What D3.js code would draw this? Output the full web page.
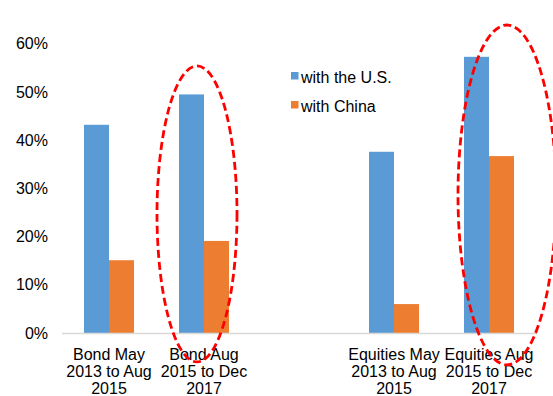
<!DOCTYPE html>
<html>
<head>
<meta charset="utf-8">
<script src="https://cdn.jsdelivr.net/npm/d3@7"></script>
<style>
  html, body { margin: 0; padding: 0; background: #fff; }
  svg { display: block; font-family: "Liberation Sans", Arial, sans-serif; }
</style>
</head>
<body>
<svg id="chart" width="553" height="396"></svg>
<script>
// Categories (the empty one leaves a gap between bonds and equities)
const categories = [
  ["Bond May", "2013 to Aug", "2015"],
  ["Bond Aug", "2015 to Dec", "2017"],
  [],
  ["Equities May", "2013 to Aug", "2015"],
  ["Equities Aug", "2015 to Dec", "2017"]
];
const seriesNames = ["with the U.S.", "with China"];
const withUS    = [0.432, 0.495, null, 0.376, 0.573];
const withChina = [0.151, 0.191, null, 0.060, 0.367];
const yTicks = [0, 0.1, 0.2, 0.3, 0.4, 0.5, 0.6];
const colors = ["#5B9BD5", "#ED7D31"];

// Highlighted periods: category index, horizontal offset, vertical extent (value units), half width
const highlights = [
  { cat: 1, dx: -7, top: 0.554, bottom: -0.060, rx: 40 },
  { cat: 4, dx: 18, top: 0.639, bottom: -0.066, rx: 49 }
];

const svg = d3.select("#chart");
const margin = { left: 61.5, right: 16.5, top: 44, bottom: 63 };
const W = 553, H = 396;

const x = d3.scaleBand()
  .domain(d3.range(categories.length))
  .range([margin.left, W - margin.right])
  .paddingInner(0).paddingOuter(0);

const y = d3.scaleLinear().domain([0, 0.6]).range([H - margin.bottom, 43.8]);

const groupW = x.bandwidth() / 1.9;
const x1 = d3.scaleBand().domain([0, 1]).range([0, groupW]);

// Y axis labels (no axis line, no gridlines)
const yAxis = d3.axisLeft(y).tickValues(yTicks).tickFormat(d3.format(".0%")).tickSize(0).tickPadding(0);
const gy = svg.append("g").attr("transform", "translate(48,0)").call(yAxis);
gy.select(".domain").remove();
gy.selectAll("text").attr("font-size", 16).attr("fill", "#000")
  .attr("font-family", "Liberation Sans, Arial, sans-serif");

// Bars
const series = [withUS, withChina];
series.forEach((vals, s) => {
  svg.append("g").selectAll("rect")
    .data(vals.map((v, i) => ({ v, i })).filter(d => d.v != null))
    .join("rect")
    .attr("x", d => x(d.i) + (x.bandwidth() - groupW) / 2 + x1(s))
    .attr("width", x1.bandwidth())
    .attr("y", d => y(d.v))
    .attr("height", d => y(0) - y(d.v))
    .attr("fill", colors[s]);
});

// Category axis
const xAxis = d3.axisBottom(x).tickSize(0).tickFormat("");
const gx = svg.append("g").attr("transform", `translate(0,${y(0)})`).call(xAxis);
gx.select(".domain").attr("stroke", "#d9d9d9").attr("stroke-width", 1.5);

const labels = svg.append("g").attr("font-size", 16).attr("fill", "#000").attr("text-anchor", "middle");
categories.forEach((lines, i) => {
  const t = labels.append("text").attr("x", x(i) + x.bandwidth() / 2).attr("y", y(0) + 27);
  lines.forEach((ln, k) => {
    t.append("tspan").attr("x", x(i) + x.bandwidth() / 2).attr("dy", k === 0 ? 0 : 16.8).text(ln);
  });
});

// Legend
const legend = svg.append("g").attr("transform", "translate(291,72)");
seriesNames.forEach((name, s) => {
  const g = legend.append("g").attr("transform", `translate(0,${s * 29})`);
  g.append("rect").attr("width", 7.5).attr("height", 7.5).attr("fill", colors[s]);
  g.append("text").attr("x", 10).attr("y", 10.5).attr("font-size", 16).attr("fill", "#000").text(name);
});

// Dashed highlight ellipses
svg.append("g").selectAll("ellipse")
  .data(highlights)
  .join("ellipse")
  .attr("cx", d => x(d.cat) + x.bandwidth() / 2 + d.dx)
  .attr("cy", d => (y(d.top) + y(d.bottom)) / 2)
  .attr("rx", d => d.rx)
  .attr("ry", d => (y(d.bottom) - y(d.top)) / 2)
  .attr("fill", "none")
  .attr("stroke", "#FF0000")
  .attr("stroke-width", 2.8)
  .attr("stroke-dasharray", "8,4");
</script>
</body>
</html>
